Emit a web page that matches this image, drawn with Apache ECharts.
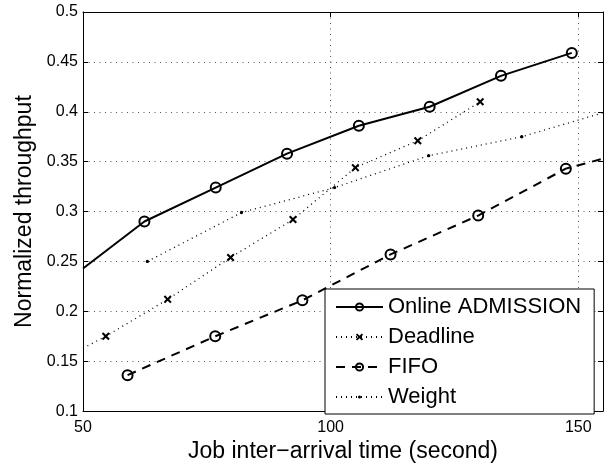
<!DOCTYPE html>
<html>
<head>
<meta charset="utf-8">
<script src="https://cdn.jsdelivr.net/npm/echarts@6/dist/echarts.min.js"></script>
<style>
html,body{margin:0;padding:0;background:#fff;}
#chart{width:605px;height:468px;}
</style>
</head>
<body>
<div id="chart"></div>
<script>
// ---- data ----
const X_MIN = 50, X_MAX = 155;
const xTickLabels = ['50', '100', '150'];
const yTickLabels = ['0.1', '0.15', '0.2', '0.25', '0.3', '0.35', '0.4', '0.45', '0.5'];
const seriesNames = ['Online ADMISSION', 'Deadline', 'FIFO', 'Weight'];

const xOnline = [50, 62.4, 76.8, 91.2, 105.7, 120.0, 134.4, 148.7];
const yOnline = [0.243, 0.290, 0.324, 0.358, 0.386, 0.405, 0.436, 0.459];

const xDeadline = [50, 54.6, 67.1, 79.8, 92.4, 105.0, 117.6, 130.2];
const yDeadline = [0.163, 0.175, 0.212, 0.254, 0.292, 0.344, 0.371, 0.410];

const xFifo = [59.0, 76.7, 94.3, 112.1, 129.8, 147.5, 155];
const yFifo = [0.136, 0.175, 0.211, 0.257, 0.296, 0.343, 0.353];

const xWeight = [63.0, 82.0, 100.8, 119.8, 138.6, 155];
const yWeight = [0.250, 0.299, 0.324, 0.356, 0.375, 0.399];

// points lying on the plot edge are clipped line ends (no marker)
function build(xs, ys) {
  return xs.map((x, i) => {
    const item = { value: [x, ys[i]] };
    if (x <= X_MIN || x >= X_MAX) item.symbol = 'none';
    return item;
  });
}

const FONT = '"Liberation Sans", Arial, Helvetica, sans-serif';
// bold "x" marker
const crossPath = 'path://M0,1.8L1.8,0L5,3.2L8.2,0L10,1.8L6.8,5L10,8.2L8.2,10L5,6.8L1.8,10L0,8.2L3.2,5Z';
// small dot inside a 10x10 box (degenerate corners keep the box size)
const dotPath = 'path://M0,0L0.01,0M10,10L9.99,10M5,2.9A2.1,2.1,0,1,1,4.99,2.9Z';

const chart = echarts.init(document.getElementById('chart'), null, { renderer: 'canvas' });

const gridLine = { show: true, lineStyle: { color: '#555', width: 1, type: [1, 4.5] } };

const option = {
  animation: false,
  backgroundColor: '#fff',
  grid: { left: 83, right: 2, top: 12, bottom: 52, containLabel: false },
  xAxis: [
    {
      type: 'value', min: X_MIN, max: X_MAX, interval: 50,
      name: 'Job inter\u2212arrival time (second)', nameLocation: 'middle', nameGap: 24,
      nameTextStyle: { fontFamily: FONT, fontSize: 23, color: '#000' },
      axisLine: { show: true, onZero: false, lineStyle: { color: '#000', width: 1 } },
      axisTick: { show: true, inside: true, length: 5, lineStyle: { color: '#000' } },
      axisLabel: {
        fontFamily: FONT, fontSize: 16, color: '#000', margin: 8, showMaxLabel: false,
        formatter: v => { const i = xTickLabels.indexOf(String(v)); return i >= 0 ? xTickLabels[i] : ''; }
      },
      splitLine: gridLine
    },
    {
      type: 'value', position: 'top', min: X_MIN, max: X_MAX, interval: 50,
      axisLine: { show: true, onZero: false, lineStyle: { color: '#000', width: 1 } },
      axisTick: { show: true, inside: true, length: 5, lineStyle: { color: '#000' } },
      axisLabel: { show: false }, splitLine: { show: false }
    }
  ],
  yAxis: [
    {
      type: 'value', min: 0.1, max: 0.5, interval: 0.05,
      name: 'Normalized throughput', nameLocation: 'middle', nameGap: 43,
      nameTextStyle: { fontFamily: FONT, fontSize: 23, color: '#000' },
      axisLine: { show: true, onZero: false, lineStyle: { color: '#000', width: 1 } },
      axisTick: { show: true, inside: true, length: 5, lineStyle: { color: '#000' } },
      axisLabel: {
        fontFamily: FONT, fontSize: 16, color: '#000', margin: 5,
        formatter: v => { const s = String(+v.toFixed(2)); return yTickLabels.indexOf(s) >= 0 ? s : ''; }
      },
      splitLine: gridLine
    },
    {
      type: 'value', position: 'right', min: 0.1, max: 0.5, interval: 0.05,
      axisLine: { show: true, onZero: false, lineStyle: { color: '#000', width: 1 } },
      axisTick: { show: true, inside: true, length: 5, lineStyle: { color: '#000' } },
      axisLabel: { show: false }, splitLine: { show: false }
    }
  ],
  legend: {
    orient: 'vertical', left: 325, top: 289,
    backgroundColor: '#fff', borderColor: '#000', borderWidth: 1,
    padding: [7, 13, 6, 10],
    itemWidth: 47, itemHeight: 9, itemGap: 8,
    textStyle: { fontFamily: FONT, fontSize: 22, color: '#000', lineHeight: 22 },
    data: seriesNames
  },
  series: [
    {
      name: seriesNames[0], type: 'line', data: build(xOnline, yOnline), clip: true, z: 5,
      color: '#000',
      symbol: 'circle', symbolSize: 10,
      lineStyle: { color: '#000', width: 2 },
      itemStyle: { color: 'rgba(0,0,0,0)', borderColor: '#000', borderWidth: 2 }
    },
    {
      name: seriesNames[1], type: 'line', data: build(xDeadline, yDeadline), clip: true, z: 4,
      color: '#000',
      symbol: crossPath, symbolSize: 8,
      lineStyle: { color: '#000', width: 1.3, type: [1, 4] },
      itemStyle: { color: '#000' }
    },
    {
      name: seriesNames[2], type: 'line', data: build(xFifo, yFifo), clip: true, z: 4,
      color: '#000',
      symbol: 'circle', symbolSize: 10,
      lineStyle: { color: '#000', width: 2, type: [9, 7] },
      itemStyle: { color: 'rgba(0,0,0,0)', borderColor: '#000', borderWidth: 2 }
    },
    {
      name: seriesNames[3], type: 'line', data: build(xWeight, yWeight), clip: true, z: 4,
      color: '#000',
      symbol: dotPath, symbolSize: 8,
      lineStyle: { color: '#000', width: 1.3, type: [1, 4] },
      itemStyle: { color: '#000' }
    }
  ]
};
chart.setOption(option);
</script>
</body>
</html>
